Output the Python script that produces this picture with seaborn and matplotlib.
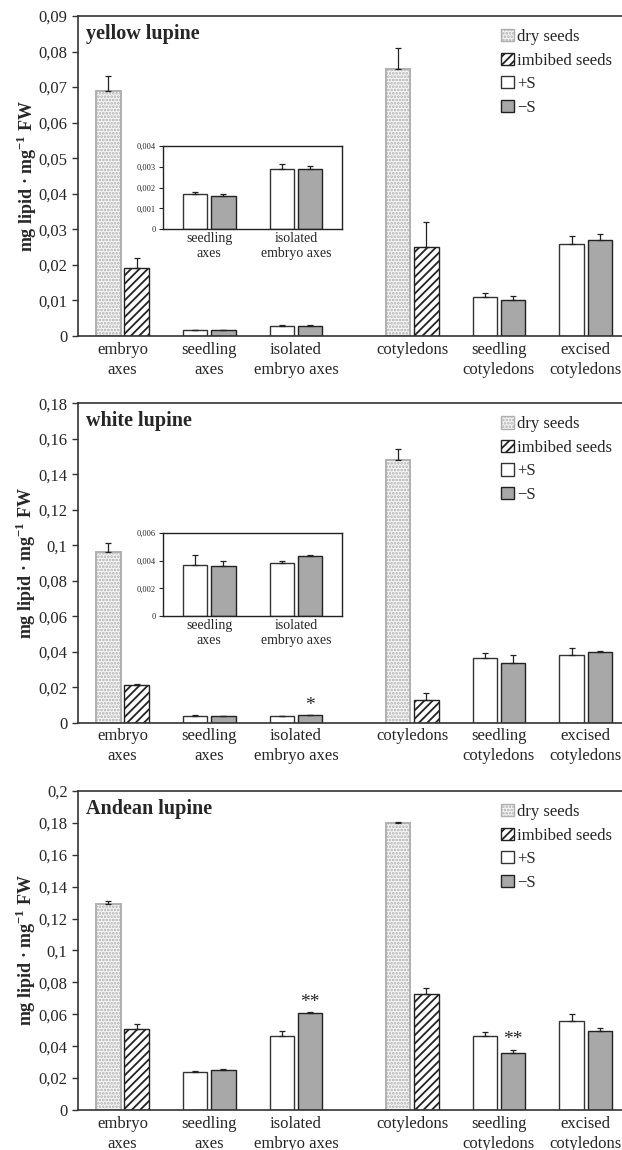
import matplotlib
matplotlib.use("Agg")
import matplotlib.pyplot as plt
from matplotlib.patches import Patch
from matplotlib.ticker import FuncFormatter, MultipleLocator
import numpy as np
import pandas as pd
import seaborn as sns

sns.set_style("ticks")
plt.rcParams["font.family"] = ["Liberation Serif", "DejaVu Serif"]
plt.rcParams["mathtext.fontset"] = "custom"
plt.rcParams["mathtext.rm"] = "Liberation Serif"
plt.rcParams["mathtext.bf"] = "Liberation Serif:bold"
plt.rcParams["hatch.linewidth"] = 1.3

# ---- data ----
groups = ["embryo\naxes", "seedling\naxes", "isolated\nembryo axes",
          "cotyledons", "seedling\ncotyledons", "excised\ncotyledons"]
group_pos = [0, 1, 2, 3.34, 4.34, 5.34]
series = ["dry seeds", "imbibed seeds", "+S", "\u2212S"]
# two bars per group: which series they are
bar_series = ["dry seeds", "imbibed seeds", "+S", "\u2212S", "+S", "\u2212S",
              "dry seeds", "imbibed seeds", "+S", "\u2212S", "+S", "\u2212S"]

titles = ["yellow lupine", "white lupine", "Andean lupine"]
ymax = [0.09, 0.18, 0.2]
ystep = [0.01, 0.02, 0.02]

yellow_mean = [0.069, 0.019, 0.0017, 0.0016, 0.0029, 0.0029,
               0.075, 0.025, 0.011, 0.0102, 0.0258, 0.0269]
yellow_err = [0.004, 0.003, 0.0001, 0.0001, 0.0002, 0.00015,
              0.006, 0.007, 0.001, 0.001, 0.0024, 0.0018]
white_mean = [0.096, 0.021, 0.0037, 0.0036, 0.0038, 0.0043,
              0.148, 0.0125, 0.0365, 0.0335, 0.038, 0.0397]
white_err = [0.005, 0.001, 0.0007, 0.0004, 0.0002, 0.0001,
             0.006, 0.004, 0.003, 0.0045, 0.004, 0.0008]
andean_mean = [0.129, 0.051, 0.024, 0.025, 0.0465, 0.0606,
               0.180, 0.0725, 0.0466, 0.0359, 0.056, 0.0497]
andean_err = [0.002, 0.003, 0.0007, 0.001, 0.003, 0.001,
              0.0005, 0.004, 0.0025, 0.002, 0.004, 0.002]
means = [yellow_mean, white_mean, andean_mean]
errs = [yellow_err, white_err, andean_err]

# significance marks: (panel, bar index, text)
stars = [(1, 5, "*"), (2, 5, "**"), (2, 9, "**")]

# insets for the small values (panels 1 and 2)
inset_groups = [1, 2]
inset_ymax = [0.004, 0.006]
inset_step = [0.001, 0.002]

# ---- styles ----
face = {"dry seeds": "#f6f6f6", "imbibed seeds": "white", "+S": "white", "\u2212S": "#a8a8a8"}
edge = {"dry seeds": "#b0b0b0", "imbibed seeds": "#222222", "+S": "#333333", "\u2212S": "#222222"}
hatch = {"dry seeds": ".....", "imbibed seeds": "////", "+S": None, "\u2212S": None}

offset = 0.164
comma = FuncFormatter(lambda v, p: ("%g" % v).replace(".", ","))


def make_df(mean, err):
    xs = []
    for g in group_pos:
        xs += [g - offset, g + offset]
    return pd.DataFrame({"x": xs, "value": mean, "err": err, "series": bar_series})


def draw_bars(ax, df):
    present = [s for s in series if s in set(df["series"])]
    sns.barplot(data=df, x="x", y="value", hue="series", hue_order=present,
                palette=face, native_scale=True, dodge=False, width=0.86,
                errorbar=None, legend=False, ax=ax)
    # restyle each bar from the row it belongs to
    xs = df["x"].to_numpy()
    for bar in ax.patches:
        cx = bar.get_x() + bar.get_width() / 2
        name = df["series"].iloc[np.argmin(np.abs(xs - cx))]
        bar.set_facecolor(face[name])
        bar.set_edgecolor(edge[name])
        bar.set_linewidth(1.0)
        if hatch[name]:
            bar.set_hatch(hatch[name])
        if name == "dry seeds":
            bar.set_linewidth(1.4)
    ax.errorbar(df["x"], df["value"], yerr=[np.zeros(len(df)), df["err"]],
                fmt="none", ecolor="#222222", elinewidth=0.9, capsize=2, capthick=0.9)


fig = plt.figure(figsize=(6.22, 11.5), dpi=100)
boxes = [[0.1254, 0.7078, 0.8746, 0.2783],
         [0.1254, 0.3716, 0.8746, 0.2777],
         [0.1254, 0.0348, 0.8746, 0.2774]]

for i in range(3):
    ax = fig.add_axes(boxes[i])
    df = make_df(means[i], errs[i])
    draw_bars(ax, df)

    ax.set_xlim(-0.513, 5.758)
    ax.set_ylim(0, ymax[i])
    ax.set_xticks(group_pos, groups)
    ax.set_xlabel("")
    ax.yaxis.set_major_locator(MultipleLocator(ystep[i]))
    ax.yaxis.set_major_formatter(comma)
    ax.tick_params(axis="x", length=0, pad=4, labelsize=12)
    ax.tick_params(axis="y", length=4, width=1, labelsize=12, color="#333333")
    for t in ax.get_xticklabels():
        t.set_linespacing(1.35)
    ax.spines["right"].set_visible(False)
    for s in ["left", "bottom", "top"]:
        ax.spines[s].set_color("#333333")
        ax.spines[s].set_linewidth(1.2)
    ax.set_ylabel(r"mg lipid · mg$^{\mathbf{-1}}$ FW", fontsize=13,
                  fontweight="bold", labelpad=0)
    ax.text(0.015, 0.975, titles[i], transform=ax.transAxes, ha="left", va="top",
            fontsize=14.5, fontweight="bold")

    handles = [Patch(facecolor=face[s], edgecolor=edge[s], hatch=hatch[s], label=s)
               for s in series]
    ax.legend(handles=handles, loc="upper left", bbox_to_anchor=(0.766, 0.98),
              frameon=False, fontsize=12, handlelength=0.75, handleheight=0.75,
              handletextpad=0.2, labelspacing=0.45, borderaxespad=0)

    for p, b, txt in stars:
        if p == i:
            top = means[i][b] + errs[i][b]
            ax.text(df["x"][b], top + 0.03 * ymax[i], txt, ha="center",
                    va="center", fontsize=14)

    if i < 2:
        ins = ax.inset_axes([0.156, 0.333, 0.329, 0.262])
        sub = df[[k // 2 in inset_groups for k in range(len(df))]].reset_index(drop=True)
        draw_bars(ins, sub)
        x0, x1 = ax.get_xlim()
        w = x1 - x0
        ins.set_xlim(x0 + 0.156 * w, x0 + 0.485 * w)
        ins.set_ylim(0, inset_ymax[i])
        ins.set_xticks([group_pos[g] for g in inset_groups],
                       [groups[g] for g in inset_groups])
        ins.set_xlabel("")
        ins.set_ylabel("")
        ins.yaxis.set_major_locator(MultipleLocator(inset_step[i]))
        ins.yaxis.set_major_formatter(comma)
        ins.tick_params(axis="x", length=0, pad=2, labelsize=10)
        ins.tick_params(axis="y", length=3, width=0.8, labelsize=6, pad=2)
        for t in ins.get_xticklabels():
            t.set_linespacing(1.2)
        for s in ins.spines.values():
            s.set_color("#222222")
            s.set_linewidth(1.0)

fig.savefig("out.png", dpi=100)
